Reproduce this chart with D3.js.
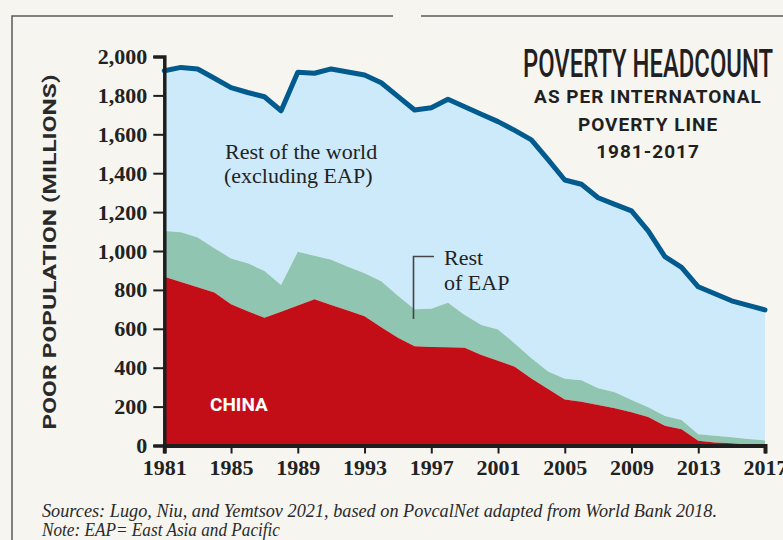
<!DOCTYPE html>
<html>
<head>
<meta charset="utf-8">
<script src="https://cdn.jsdelivr.net/npm/d3@7"></script>
<style>
  html, body { margin: 0; padding: 0; background: #f6f5f0; }
  svg { display: block; }
</style>
</head>
<body>
<div id="chart"></div>
<script>
// poor population in millions (stack tops)
const years = d3.range(1981, 2018);
const chinaPoor = [868, 840, 813, 786, 726, 690, 657, 688, 720, 752, 722, 694, 664, 608, 554, 510, 507, 505, 503, 465,
  436, 405, 345, 290, 237, 225, 208, 191, 171, 147, 102, 84, 24, 16, 11, 4, 0];
const eapPoor = [1103, 1096, 1070, 1014, 962, 937, 897, 825, 996, 975, 955, 919, 885, 845, 770, 700, 703, 734, 671, 620,
  597, 525, 448, 380, 343, 335, 294, 274, 234, 197, 152, 131, 58, 50, 42, 34, 26];
const worldPoor = [1927, 1944, 1936, 1888, 1840, 1815, 1793, 1721, 1919, 1914, 1936, 1920, 1905, 1865, 1795, 1725, 1737, 1780, 1742, 1703,
  1665, 1620, 1571, 1470, 1365, 1343, 1274, 1240, 1206, 1103, 971, 916, 816, 780, 744, 720, 697];

const yTicks = [0, 200, 400, 600, 800, 1000, 1200, 1400, 1600, 1800, 2000];
const xTicks = [1981, 1985, 1989, 1993, 1997, 2001, 2005, 2009, 2013, 2017];

const width = 783, height = 540;
const serif = "'Liberation Serif', 'DejaVu Serif', serif";
const sans = "Roboto, 'Liberation Sans', sans-serif";

const svg = d3.select("#chart").append("svg")
  .attr("width", width)
  .attr("height", height);

// frame (top rule with a gap, left rule)
svg.append("path")
  .attr("d", "M12,540 V16 H393 M421,16 H783")
  .attr("fill", "none")
  .attr("stroke", "#5a5a5a")
  .attr("stroke-width", 1.5);

const x = d3.scaleLinear().domain([1981, 2017]).range([164.3, 765]);
const y = d3.scaleLinear().domain([0, 2000]).range([445.5, 56.5]);

const rows = years.map((yr, i) => ({ year: yr, china: chinaPoor[i], eap: eapPoor[i], world: worldPoor[i] }));

// rest of world
svg.append("path")
  .datum(rows)
  .attr("fill", "#cdeafb")
  .attr("d", d3.area().x(d => x(d.year)).y0(d => y(d.eap)).y1(d => y(d.world)));

// rest of EAP
svg.append("path")
  .datum(rows)
  .attr("fill", "#8fc5b1")
  .attr("d", d3.area().x(d => x(d.year)).y0(d => y(d.china)).y1(d => y(d.eap)));

// China
svg.append("path")
  .datum(rows)
  .attr("fill", "#c40e17")
  .attr("d", d3.area().x(d => x(d.year)).y0(y(0)).y1(d => y(d.china)));

// total line
svg.append("path")
  .datum(rows)
  .attr("fill", "none")
  .attr("stroke", "#025b8e")
  .attr("stroke-width", 5)
  .attr("stroke-linejoin", "round")
  .attr("stroke-linecap", "round")
  .attr("d", d3.line().x(d => x(d.year)).y(d => y(d.world)));

// y axis
const yAxis = svg.append("g")
  .attr("transform", `translate(${x(1981)},0)`)
  .call(d3.axisLeft(y).tickValues(yTicks).tickSize(11).tickPadding(6).tickFormat(d3.format(",")));
yAxis.select(".domain").attr("stroke", "#1e1e1e").attr("stroke-width", 3.5);
yAxis.selectAll(".tick line").attr("stroke", "#1e1e1e").attr("stroke-width", 2);
yAxis.selectAll("text")
  .attr("fill", "#222")
  .style("font-family", serif)
  .style("font-weight", "bold")
  .style("font-size", "22px");

// x axis
const xAxis = svg.append("g")
  .attr("transform", `translate(0,${y(0)})`)
  .call(d3.axisBottom(x).tickValues(xTicks).tickSize(8).tickPadding(6).tickFormat(d3.format("d")));
xAxis.select(".domain").attr("stroke", "#1e1e1e").attr("stroke-width", 4);
xAxis.selectAll(".tick line").attr("stroke", "#1e1e1e").attr("stroke-width", 2);
xAxis.selectAll("text")
  .attr("fill", "#222")
  .style("font-family", serif)
  .style("font-weight", "bold")
  .style("font-size", "22px");

// y axis title
svg.append("text")
  .attr("transform", "translate(56,252) rotate(-90)")
  .attr("text-anchor", "middle")
  .attr("fill", "#2a2a2a")
  .attr("textLength", 355)
  .attr("lengthAdjust", "spacingAndGlyphs")
  .style("font-family", sans)
  .style("font-weight", "bold")
  .style("font-size", "19px")
  .text("POOR POPULATION (MILLIONS)");

// title block
svg.append("text")
  .attr("x", 648).attr("y", 77)
  .attr("text-anchor", "middle")
  .attr("fill", "#231f20")
  .attr("textLength", 250)
  .attr("lengthAdjust", "spacingAndGlyphs")
  .style("font-family", sans)
  .style("font-weight", 500)
  .style("font-size", "38px")
  .text("POVERTY HEADCOUNT");

["AS PER INTERNATONAL", "POVERTY LINE", "1981-2017"].forEach((t, i) => {
  svg.append("text")
    .attr("x", 648).attr("y", 103 + i * 27.5)
    .attr("text-anchor", "middle")
    .attr("fill", "#231f20")
    .style("font-family", sans)
    .style("font-weight", "bold")
    .style("font-size", "19px")
    .style("letter-spacing", "1px")
    .text(t);
});

// labels
svg.append("text")
  .attr("x", 225).attr("y", 159)
  .attr("fill", "#222")
  .style("font-family", serif)
  .style("font-size", "22px")
  .text("Rest of the world");
svg.append("text")
  .attr("x", 224).attr("y", 183)
  .attr("fill", "#222")
  .style("font-family", serif)
  .style("font-size", "22px")
  .text("(excluding EAP)");

svg.append("text")
  .attr("x", 444).attr("y", 265)
  .attr("fill", "#222")
  .style("font-family", serif)
  .style("font-size", "22px")
  .text("Rest");
svg.append("text")
  .attr("x", 444).attr("y", 290)
  .attr("fill", "#222")
  .style("font-family", serif)
  .style("font-size", "22px")
  .text("of EAP");
svg.append("path")
  .attr("d", "M413.5,319 V256.5 H434")
  .attr("fill", "none")
  .attr("stroke", "#444")
  .attr("stroke-width", 1.6);

svg.append("text")
  .attr("x", 210).attr("y", 410.5)
  .attr("fill", "#fff")
  .style("font-family", sans)
  .style("font-weight", "bold")
  .style("font-size", "19px")
  .text("CHINA");

// footnotes
svg.append("text")
  .attr("x", 42).attr("y", 516.5)
  .attr("fill", "#2a2a2a")
  .attr("textLength", 675)
  .attr("lengthAdjust", "spacingAndGlyphs")
  .style("font-family", serif)
  .style("font-style", "italic")
  .style("font-size", "19px")
  .text("Sources: Lugo, Niu, and Yemtsov 2021, based on PovcalNet adapted from World Bank 2018.");
svg.append("text")
  .attr("x", 42).attr("y", 535.5)
  .attr("fill", "#2a2a2a")
  .attr("textLength", 238)
  .attr("lengthAdjust", "spacingAndGlyphs")
  .style("font-family", serif)
  .style("font-style", "italic")
  .style("font-size", "19px")
  .text("Note: EAP= East Asia and Pacific");
</script>
</body>
</html>
